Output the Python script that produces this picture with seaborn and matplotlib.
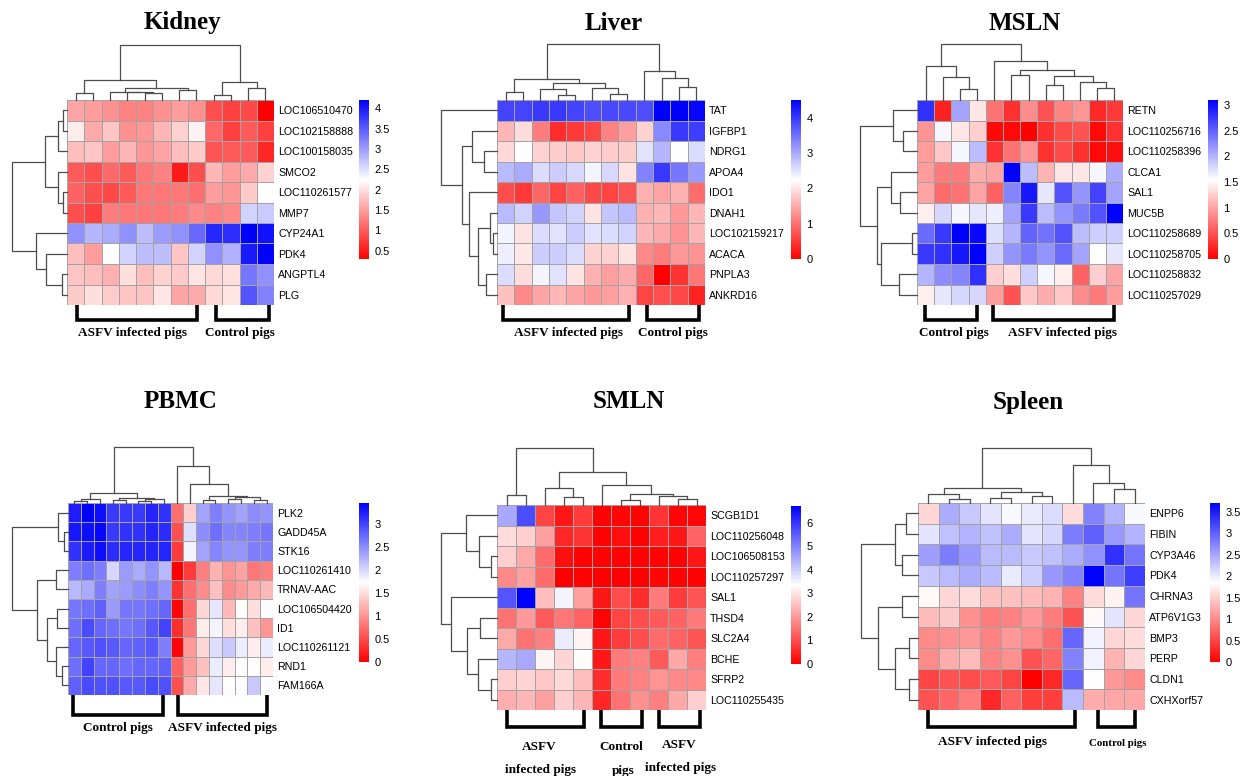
import numpy as np
import pandas as pd
import seaborn as sns
import matplotlib.pyplot as plt
from matplotlib.colors import LinearSegmentedColormap

# ---------------- data (displayed order) ----------------
kidney_genes = ['LOC106510470', 'LOC102158888', 'LOC100158035', 'SMCO2', 'LOC110261577',
                'MMP7', 'CYP24A1', 'PDK4', 'ANGPTL4', 'PLG']
kidney_values = [
    [1.55, 1.5, 1.4, 1.3, 1.3, 1.4, 1.5, 1.4, 0.9, 0.8, 0.85, 0.3],
    [2.1, 1.6, 1.8, 1.4, 1.45, 1.7, 1.9, 2.15, 1.1, 0.8, 1.0, 0.8],
    [1.75, 1.8, 1.5, 1.7, 1.45, 1.55, 1.75, 1.85, 0.95, 1.0, 1.0, 0.6],
    [1.0, 0.9, 1.1, 1.0, 1.2, 1.3, 0.5, 0.9, 1.7, 1.5, 1.6, 1.9],
    [1.05, 0.9, 0.85, 1.0, 1.2, 1.2, 1.2, 1.15, 1.5, 1.45, 1.85, 2.25],
    [0.9, 0.8, 1.25, 1.2, 1.2, 1.2, 1.25, 1.35, 1.3, 1.35, 2.6, 2.65],
    [3.1, 2.8, 2.9, 3.1, 2.75, 3.0, 3.1, 3.4, 3.9, 3.85, 4.2, 4.05],
    [1.75, 1.5, 2.25, 2.6, 2.75, 2.75, 1.8, 2.6, 3.1, 2.85, 4.0, 4.2],
    [1.8, 1.75, 1.65, 2.0, 1.75, 1.9, 1.85, 2.05, 1.95, 2.0, 3.3, 3.1],
    [1.85, 2.0, 1.85, 1.8, 1.8, 2.05, 1.55, 1.6, 1.95, 2.05, 3.55, 3.2],
]
kidney_col_tree = [(0, 1, 0.13), (4, 5, 0.12), (3, 13, 0.14), (2, 14, 0.15), (6, 7, 0.19),
                   (15, 16, 0.21), (12, 17, 0.36), (8, 9, 0.10), (10, 11, 0.21),
                   (19, 20, 0.33), (18, 21, 1.0)]
kidney_row_tree = [(0, 1, 0.07), (10, 2, 0.16), (4, 5, 0.08), (3, 12, 0.16), (11, 13, 0.40),
                   (8, 9, 0.10), (7, 15, 0.38), (6, 16, 0.56), (14, 17, 1.0)]
kidney_ticks = [0.5, 1, 1.5, 2, 2.5, 3, 3.5, 4]

liver_genes = ['TAT', 'IGFBP1', 'NDRG1', 'APOA4', 'IDO1', 'DNAH1', 'LOC102159217',
               'ACACA', 'PNPLA3', 'ANKRD16']
liver_values = [
    [3.9, 3.9, 4.0, 4.0, 3.9, 3.8, 3.85, 3.85, 3.8, 4.5, 4.5, 4.45],
    [1.6, 1.95, 1.1, 0.4, 0.5, 0.6, 1.15, 1.4, 1.85, 3.3, 4.0, 3.95],
    [1.9, 2.25, 1.85, 1.8, 1.75, 1.85, 1.8, 1.8, 2.5, 2.9, 2.25, 2.55],
    [2.85, 3.0, 2.55, 2.7, 2.6, 2.35, 2.6, 2.0, 3.35, 4.0, 3.45, 3.15],
    [0.7, 0.5, 0.9, 0.6, 0.85, 0.65, 0.6, 0.75, 1.55, 1.45, 1.55, 0.95],
    [2.85, 2.65, 3.15, 2.75, 2.65, 2.0, 2.75, 2.85, 1.55, 1.6, 1.35, 1.6],
    [2.35, 2.0, 2.55, 2.5, 2.7, 2.5, 2.55, 2.65, 1.6, 1.5, 1.3, 1.6],
    [2.4, 2.05, 2.7, 2.7, 2.55, 1.85, 1.85, 2.0, 1.2, 1.1, 1.35, 1.3],
    [2.55, 1.95, 2.35, 2.5, 2.0, 1.55, 1.4, 1.5, 0.9, 0.0, 0.45, 1.05],
    [1.7, 1.2, 1.45, 1.6, 1.45, 1.35, 1.4, 1.55, 0.6, 0.7, 0.65, 0.3],
]
liver_col_tree = [(0, 1, 0.15), (3, 4, 0.09), (2, 13, 0.19), (6, 7, 0.10), (5, 15, 0.21),
                  (14, 16, 0.30), (12, 17, 0.37), (10, 11, 0.23), (9, 19, 0.39),
                  (8, 20, 0.51), (18, 21, 1.0)]
liver_row_tree = [(2, 3, 0.23), (1, 10, 0.44), (6, 7, 0.08), (5, 12, 0.13), (8, 9, 0.19),
                  (13, 14, 0.34), (4, 15, 0.50), (11, 16, 0.62), (0, 17, 1.0)]
liver_ticks = [0, 1, 2, 3, 4]

msln_genes = ['RETN', 'LOC110256716', 'LOC110258396', 'CLCA1', 'SAL1', 'MUC5B',
              'LOC110258689', 'LOC110258705', 'LOC110258832', 'LOC110257029']
msln_values = [
    [2.8, 0.2, 2.1, 1.4, 0.7, 0.3, 0.85, 0.5, 0.8, 0.9, 0.25, 0.35],
    [0.9, 1.6, 1.4, 1.25, 0.05, 0.05, 0.0, 0.3, 0.45, 0.5, 0.05, 0.3],
    [0.95, 1.2, 1.6, 1.95, 0.3, 0.7, 0.9, 0.3, 0.45, 0.3, 0.05, 0.1],
    [0.95, 0.75, 0.75, 1.05, 1.0, 3.1, 1.95, 1.1, 1.4, 1.4, 1.6, 2.05],
    [1.0, 0.65, 0.7, 1.0, 0.6, 2.3, 2.95, 1.7, 2.6, 2.2, 2.7, 2.1],
    [1.45, 1.8, 1.6, 1.7, 1.65, 2.1, 2.75, 1.95, 2.2, 2.35, 2.6, 3.1],
    [2.45, 2.75, 3.1, 3.05, 1.75, 2.0, 2.5, 2.4, 2.6, 1.95, 1.85, 1.85],
    [2.75, 2.8, 2.95, 3.1, 1.85, 2.2, 2.35, 2.2, 2.45, 2.1, 1.55, 1.7],
    [2.0, 2.25, 2.3, 2.8, 1.25, 1.35, 1.85, 1.6, 1.45, 0.6, 1.25, 1.0],
    [1.45, 1.7, 1.8, 1.8, 0.95, 0.5, 1.2, 1.05, 1.2, 0.85, 0.75, 0.95],
]
msln_col_tree = [(2, 3, 0.19), (1, 12, 0.41), (0, 13, 0.60), (5, 6, 0.44), (7, 8, 0.27),
                 (10, 11, 0.21), (9, 17, 0.33), (16, 18, 0.42), (15, 19, 0.53),
                 (4, 20, 0.69), (14, 21, 1.0)]
msln_row_tree = [(1, 2, 0.24), (0, 10, 0.42), (4, 5, 0.29), (3, 12, 0.45), (6, 7, 0.09),
                 (8, 9, 0.31), (14, 15, 0.63), (13, 16, 0.71), (11, 17, 1.0)]
msln_ticks = [0, 0.5, 1, 1.5, 2, 2.5, 3]

pbmc_genes = ['PLK2', 'GADD45A', 'STK16', 'LOC110261410', 'TRNAV-AAC', 'LOC106504420',
              'ID1', 'LOC110261121', 'RND1', 'FAM166A']
pbmc_values = [
    [3.25, 3.45, 3.35, 3.05, 3.05, 3.05, 3.2, 3.1, 0.75, 1.4, 2.35, 2.6, 2.45, 2.35, 2.5, 2.45],
    [3.3, 3.35, 3.4, 3.05, 3.1, 3.1, 3.2, 3.15, 0.55, 1.95, 2.5, 2.7, 2.55, 2.55, 2.6, 2.65],
    [3.1, 3.25, 3.35, 3.15, 3.2, 3.2, 3.2, 3.2, 0.4, 1.8, 2.35, 2.55, 2.45, 2.45, 2.6, 2.6],
    [2.6, 2.7, 2.6, 2.0, 2.4, 2.3, 2.45, 2.2, 0.0, 0.4, 0.85, 1.2, 1.0, 1.1, 0.8, 0.85],
    [2.2, 2.3, 2.6, 2.35, 2.4, 2.5, 2.6, 2.45, 0.35, 0.75, 0.95, 1.3, 0.95, 1.05, 1.15, 1.25],
    [2.65, 2.7, 2.8, 2.4, 2.65, 2.65, 2.7, 2.75, 0.05, 0.75, 1.45, 1.9, 1.25, 1.7, 1.5, 1.75],
    [2.7, 2.95, 2.75, 2.7, 2.65, 2.7, 2.85, 3.0, 0.3, 0.8, 1.6, 1.8, 1.5, 1.6, 1.3, 1.0],
    [2.75, 2.85, 2.9, 2.85, 2.75, 2.8, 2.85, 2.6, 0.05, 1.05, 1.45, 1.95, 2.1, 1.85, 1.6, 1.85],
    [2.7, 3.0, 2.75, 2.75, 2.7, 2.75, 2.75, 2.8, 0.65, 1.05, 1.3, 1.85, 1.6, 1.75, 1.7, 1.6],
    [2.8, 2.95, 2.9, 2.9, 2.85, 2.85, 2.95, 2.9, 0.55, 1.15, 1.55, 1.9, 1.7, 1.75, 2.1, 1.75],
]
pbmc_col_tree = [(0, 1, 0.04), (16, 2, 0.07), (3, 4, 0.05), (5, 6, 0.04), (19, 7, 0.07),
                 (18, 20, 0.09), (17, 21, 0.18), (10, 11, 0.06), (12, 13, 0.08),
                 (14, 15, 0.05), (24, 25, 0.10), (23, 26, 0.12), (9, 27, 0.34),
                 (8, 28, 0.66), (22, 29, 1.0)]
pbmc_row_tree = [(1, 2, 0.08), (0, 10, 0.17), (3, 4, 0.21), (5, 6, 0.20), (8, 9, 0.11),
                 (7, 14, 0.21), (13, 15, 0.38), (12, 16, 0.55), (11, 17, 1.0)]
pbmc_ticks = [0, 0.5, 1, 1.5, 2, 2.5, 3]

smln_genes = ['SCGB1D1', 'LOC110256048', 'LOC106508153', 'LOC110257297', 'SAL1', 'THSD4',
              'SLC2A4', 'BCHE', 'SFRP2', 'LOC110255435']
smln_values = [
    [4.5, 5.7, 0.9, 0.3, 0.8, 0.05, 0.1, 0.05, 0.7, 0.1, 0.1],
    [2.9, 2.7, 2.1, 0.5, 0.7, 0.05, 0.2, 0.05, 0.4, 0.3, 1.3],
    [2.7, 2.2, 1.4, 0.2, 0.05, 0.05, 0.05, 0.05, 0.05, 0.05, 0.3],
    [1.8, 2.1, 1.4, 0.0, 0.05, 0.0, 0.0, 0.0, 0.1, 0.05, 0.05],
    [5.6, 6.7, 2.5, 3.5, 2.1, 0.3, 1.0, 0.6, 1.6, 0.8, 1.1],
    [1.5, 2.0, 1.2, 1.55, 1.3, 0.05, 0.9, 1.0, 1.2, 1.3, 1.6],
    [2.2, 1.5, 1.7, 3.6, 3.2, 0.3, 0.8, 1.0, 1.4, 1.3, 1.1],
    [4.3, 4.5, 3.2, 2.8, 3.3, 0.3, 1.6, 1.7, 1.2, 2.2, 1.65],
    [2.7, 2.8, 2.6, 2.85, 2.5, 0.6, 1.6, 1.7, 1.95, 1.8, 1.8],
    [2.3, 2.4, 2.1, 2.7, 2.4, 0.5, 1.5, 1.9, 1.7, 2.2, 2.7],
]
smln_col_tree = [(0, 1, 0.18), (3, 4, 0.14), (2, 12, 0.29), (6, 7, 0.08), (9, 10, 0.11),
                 (8, 15, 0.15), (14, 16, 0.19), (5, 17, 0.35), (13, 18, 0.58), (11, 19, 1.0)]
smln_row_tree = [(2, 3, 0.10), (1, 10, 0.33), (0, 11, 0.56), (5, 6, 0.31), (8, 9, 0.11),
                 (7, 14, 0.34), (13, 15, 0.54), (4, 16, 0.82), (12, 17, 1.0)]
smln_ticks = [0, 1, 2, 3, 4, 5, 6]

spleen_genes = ['ENPP6', 'FIBIN', 'CYP3A46', 'PDK4', 'CHRNA3', 'ATP6V1G3', 'BMP3', 'PERP',
                'CLDN1', 'CXHXorf57']
spleen_values = [
    [1.55, 2.45, 2.25, 2.05, 1.9, 2.0, 2.1, 1.6, 2.75, 2.4, 1.9],
    [2.05, 2.3, 2.4, 2.3, 2.45, 2.05, 2.15, 2.8, 3.0, 2.6, 2.4],
    [2.55, 2.8, 2.6, 2.35, 2.35, 2.25, 2.3, 2.45, 2.65, 3.35, 2.85],
    [2.25, 2.35, 2.45, 2.35, 2.0, 2.2, 2.6, 2.75, 3.7, 2.85, 3.25],
    [1.8, 1.55, 1.6, 1.4, 1.4, 1.35, 1.3, 0.95, 1.6, 1.75, 2.85],
    [1.35, 1.45, 1.05, 0.9, 0.95, 1.1, 0.9, 0.6, 1.8, 2.05, 1.55],
    [1.0, 1.05, 1.1, 0.95, 1.1, 1.0, 0.8, 2.95, 1.95, 1.55, 1.6],
    [1.0, 1.25, 1.35, 0.95, 1.05, 0.6, 0.75, 2.75, 1.95, 1.3, 1.55],
    [0.5, 0.6, 0.55, 0.65, 0.5, 0.0, 0.3, 2.95, 1.85, 1.1, 1.0],
    [0.6, 0.75, 0.9, 0.3, 0.7, 0.45, 0.45, 2.35, 1.25, 1.2, 1.2],
]
spleen_col_tree = [(1, 2, 0.08), (0, 11, 0.16), (3, 4, 0.10), (5, 6, 0.12), (13, 14, 0.20),
                   (12, 15, 0.27), (9, 10, 0.25), (8, 17, 0.36), (7, 18, 0.69), (16, 19, 1.0)]
spleen_row_tree = [(0, 1, 0.21), (2, 3, 0.28), (10, 11, 0.40), (4, 5, 0.28), (6, 7, 0.15),
                   (8, 9, 0.15), (14, 15, 0.40), (13, 16, 0.71), (12, 17, 1.0)]
spleen_ticks = [0, 0.5, 1, 1.5, 2, 2.5, 3, 3.5]

# ---------------- layout ----------------
W, H = 1245, 776
fig = plt.figure(figsize=(W / 100, H / 100), dpi=100)
cmap = LinearSegmentedColormap.from_list('rwb', ['#ff0000', '#ffffff', '#0000ff'])
SANS = 'Liberation Sans'
SERIF = 'Liberation Serif'
TREE_COLOR = '#4d4d4d'


def rect(l, t, r, b):
    return [l / W, 1 - b / H, (r - l) / W, (b - t) / H]


def draw_tree(ax, merges, n, top):
    pos = {i: i + 0.5 for i in range(n)}
    hgt = {i: 0.0 for i in range(n)}
    for k, (a, b, h) in enumerate(merges):
        xs = [pos[a], pos[a], pos[b], pos[b]]
        ys = [hgt[a], h, h, hgt[b]]
        if top:
            ax.plot(xs, ys, color=TREE_COLOR, lw=0.9, clip_on=False)
        else:
            ax.plot(ys, xs, color=TREE_COLOR, lw=0.9, clip_on=False)
        pos[n + k] = (pos[a] + pos[b]) / 2
        hgt[n + k] = h
    if top:
        ax.set_xlim(0, n)
        ax.set_ylim(0, 1)
    else:
        ax.set_xlim(1, 0)
        ax.set_ylim(n, 0)
    ax.axis('off')


def panel(genes, values, col_tree, row_tree, ticks, vmax, hm, dend_left, dend_top, cb, vmin=0):
    l, t, r, b = hm
    df = pd.DataFrame(values, index=genes)
    n_rows, n_cols = df.shape
    ax = fig.add_axes(rect(l, t, r, b))
    cax = fig.add_axes(rect(*cb))
    sns.heatmap(df, ax=ax, cmap=cmap, vmin=vmin, vmax=vmax, linewidths=0.6,
                linecolor='#a3a3a3', cbar_ax=cax, xticklabels=False, yticklabels=True)
    ax.yaxis.tick_right()
    ax.set_yticklabels(genes, rotation=0, fontsize=7.7, family=SANS)
    ax.tick_params(length=0, pad=3)
    ax.set_xlabel('')
    ax.set_ylabel('')
    cbar = ax.collections[0].colorbar
    cbar.set_ticks(ticks)
    cbar.set_ticklabels([f'{v:g}' for v in ticks])
    cbar.outline.set_visible(False)
    cax.tick_params(length=0, labelsize=8, pad=4)
    for lab in cax.get_yticklabels():
        lab.set_family(SANS)

    ax_top = fig.add_axes(rect(l, dend_top, r, t))
    draw_tree(ax_top, col_tree, n_cols, True)
    ax_left = fig.add_axes(rect(dend_left, t, l, b))
    draw_tree(ax_left, row_tree, n_rows, False)


panel(kidney_genes, kidney_values, kidney_col_tree, kidney_row_tree, kidney_ticks, 4.2,
      (67, 100, 274, 305), 12, 45, (359, 100, 369, 259), vmin=0.3)
panel(liver_genes, liver_values, liver_col_tree, liver_row_tree, liver_ticks, 4.5,
      (497, 100, 705, 305), 441, 44, (791, 100, 801, 259))
panel(msln_genes, msln_values, msln_col_tree, msln_row_tree, msln_ticks, 3.1,
      (917, 100, 1123, 305), 860, 44, (1208, 100, 1218, 259))
panel(pbmc_genes, pbmc_values, pbmc_col_tree, pbmc_row_tree, pbmc_ticks, 3.45,
      (68, 503, 273, 695), 12, 447, (359, 503, 369, 662))
panel(smln_genes, smln_values, smln_col_tree, smln_row_tree, smln_ticks, 6.7,
      (497, 505, 706, 710), 441, 448, (791, 506, 801, 664))
panel(spleen_genes, spleen_values, spleen_col_tree, spleen_row_tree, spleen_ticks, 3.7,
      (918, 503, 1145, 710), 861, 448, (1210, 503, 1220, 662))

# ---------------- titles, brackets, group labels ----------------
ov = fig.add_axes([0, 0, 1, 1])
ov.set_xlim(0, W)
ov.set_ylim(H, 0)
ov.axis('off')

titles = [('Kidney', 182, 23), ('Liver', 614, 23), ('MSLN', 1025, 23),
          ('PBMC', 180, 402), ('SMLN', 629, 402), ('Spleen', 1028, 402)]
for txt, x, y in titles:
    ov.text(x, y, txt, ha='center', va='center', fontsize=18, fontweight='bold', family=SERIF)

brackets = [(77, 197, 305, 320), (216, 269, 305, 320),
            (503, 629, 305, 320), (647, 699, 305, 320),
            (925, 977, 305, 320), (993, 1114, 305, 320),
            (73, 163, 695, 715), (178, 267, 695, 715),
            (507, 584, 710, 727), (601, 642, 710, 727), (659, 700, 710, 727),
            (928, 1075, 710, 727), (1098, 1135, 710, 727)]
for x0, x1, y0, y1 in brackets:
    ov.plot([x0, x0, x1, x1], [y0, y1, y1, y0], color='black', lw=2.6,
            solid_joinstyle='miter', solid_capstyle='butt')

group_labels = [('ASFV infected pigs', 133, 333, 9.5), ('Control pigs', 240, 333, 9.5),
                ('ASFV infected pigs', 568, 333, 9.5), ('Control pigs', 673, 333, 9.5),
                ('Control pigs', 954, 333, 9.5), ('ASFV infected pigs', 1063, 333, 9.5),
                ('Control pigs', 118, 728, 9.5), ('ASFV infected pigs', 222, 728, 9.5),
                ('ASFV', 539, 747, 9.5), ('infected pigs', 541, 770, 9.5),
                ('Control', 621, 747, 9.5), ('pigs', 623, 771, 9.5),
                ('ASFV', 679, 745, 9.5), ('infected pigs', 681, 768, 9.5),
                ('ASFV infected pigs', 993, 742, 9.5), ('Control pigs', 1118, 743, 7.8)]
for txt, x, y, fs in group_labels:
    ov.text(x, y, txt, ha='center', va='center', fontsize=fs, fontweight='bold', family=SERIF)

fig.savefig('out.png', dpi=100)
